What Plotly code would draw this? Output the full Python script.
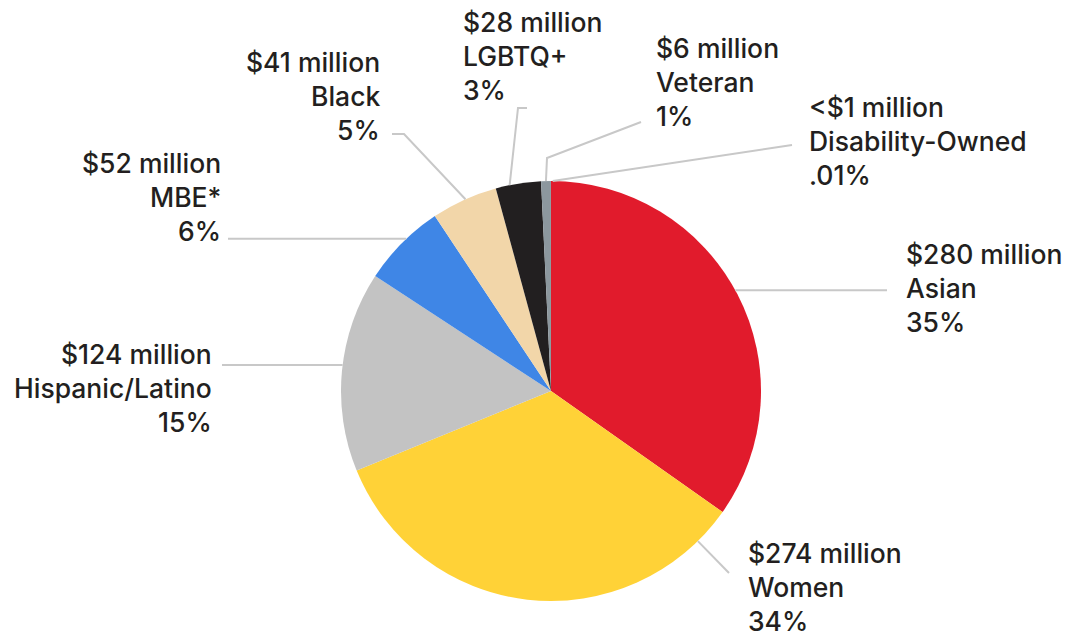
import math
import plotly.graph_objects as go

W, H = 1068, 634

# Supplier spend by diverse-business category ($ millions)
categories = ["Asian", "Women", "Hispanic/Latino", "MBE*", "Black",
              "LGBTQ+", "Veteran", "Disability-Owned"]
amounts = [280, 274, 124, 52, 41, 28, 6, 0.08]
amount_labels = ["$280 million", "$274 million", "$124 million", "$52 million",
                 "$41 million", "$28 million", "$6 million", "<$1 million"]
share_labels = ["35%", "34%", "15%", "6%", "5%", "3%", "1%", ".01%"]

colors = ["#E11B2C", "#FFD237", "#C3C3C3", "#3F86E6", "#F2D6A9",
          "#221F20", "#8C979E", "#5F6B73"]

# pie placement (pixels)
CX, CY, R = 551, 391, 210

# label layout: where the leader leaves the slice (fraction of its arc),
# bend points of the leader, text anchor x, alignment, first-line y
label_layout = {
    "Asian":            dict(frac=0.49, bends=[("h", 887)], tx=905, align="left", ty=254),
    "Women":            dict(frac=0.085, bends=[(729, 573)], tx=747, align="left", ty=553),
    "Hispanic/Latino":  dict(frac=0.53, bends=[("h", 222)], tx=213, align="right", ty=354),
    "MBE*":             dict(frac=0.57, bends=[("h", 228)], tx=222, align="right", ty=163),
    "Black":            dict(frac=0.52, bends=[(404, 134), (392, 134)], tx=381, align="right", ty=62),
    "LGBTQ+":           dict(frac=0.31, bends=[(518, 108), (527, 108)], tx=462, align="left", ty=22),
    "Veteran":          dict(frac=0.5, bends=[(547, 158), (641, 122)], tx=655, align="left", ty=48),
    "Disability-Owned": dict(frac=14.0, bends=[(792, 145)], tx=808, align="left", ty=107),
}
LINE_GAP = 34


def px(x):
    return x / W


def py(y):
    return 1 - y / H


total = sum(amounts)
fig = go.Figure(go.Pie(
    labels=categories,
    values=amounts,
    sort=False,
    direction="clockwise",
    rotation=0,
    marker=dict(colors=colors, line=dict(width=0)),
    textinfo="none",
    hoverinfo="label+value+percent",
    showlegend=False,
    domain=dict(x=[px(CX - R), px(CX + R)], y=[py(CY + R), py(CY - R)]),
))

shapes = []
annotations = []
start = 0.0
for cat, amt, amt_lbl, share in zip(categories, amounts, amount_labels, share_labels):
    span = amt / total * 360.0
    lay = label_layout[cat]
    ang = math.radians(start + lay["frac"] * span)
    ex = CX + R * math.sin(ang)
    ey = CY - R * math.cos(ang)
    pts = [(ex, ey)]
    for b in lay["bends"]:
        if b[0] == "h":
            pts.append((b[1], ey))
        else:
            pts.append(b)
    path = "M " + " L ".join(f"{px(x):.5f},{py(y):.5f}" for x, y in pts)
    shapes.append(dict(type="path", xref="paper", yref="paper", path=path,
                       line=dict(color="#C8C8C8", width=2), layer="above"))
    for i, line in enumerate([amt_lbl, cat, share]):
        annotations.append(dict(
            x=px(lay["tx"]), y=py(lay["ty"] + i * LINE_GAP),
            xref="paper", yref="paper", text=line, showarrow=False,
            xanchor=lay["align"], yanchor="middle", align=lay["align"],
            borderpad=0,
            font=dict(family="Inter", size=26.5, weight=500, color="#231F20"),
        ))
    start += span

fig.update_layout(
    width=W, height=H,
    margin=dict(l=0, r=0, t=0, b=0),
    paper_bgcolor="white",
    plot_bgcolor="white",
    shapes=shapes,
    annotations=annotations,
)

fig.write_html("out.html")
